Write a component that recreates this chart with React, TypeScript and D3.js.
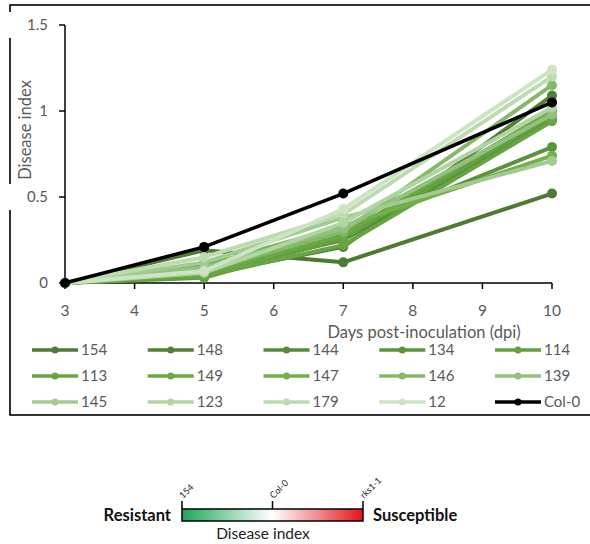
import React from 'react'
import * as d3 from 'd3'

const WIDTH = 590
const HEIGHT = 544
const FONT = 'Lato, "Open Sans", sans-serif'
const GREY = '#595959'

// Data
const DAYS = [3, 5, 7, 10]
const X_TICKS = [3, 4, 5, 6, 7, 8, 9, 10]
const Y_TICKS = [0, 0.5, 1, 1.5]
const Y_TICK_LABELS = ['0', '0.5', '1', '1.5']

const LINES = ['154', '148', '144', '134', '114', '113', '149', '147', '146', '139', '145', '123', '179', '12', 'Col-0']
const COLORS = ['#4f7a33', '#527f35', '#578a38', '#5a943a', '#62a040', '#68a444', '#6aa844', '#72b04c', '#84b96a', '#94c080', '#a4ca93', '#b0d4a2', '#bcdcb0', '#cce4c4', '#000000']
const VALUES = [
  [0, 0.19, 0.12, 0.52],
  [0, 0.05, 0.21, 1.09],
  [0, 0.06, 0.25, 0.95],
  [0, 0.08, 0.3, 0.79],
  [0, 0.03, 0.26, 0.97],
  [0, 0.04, 0.22, 0.94],
  [0, 0.05, 0.28, 1.0],
  [0, 0.1, 0.33, 0.74],
  [0, 0.07, 0.3, 1.15],
  [0, 0.09, 0.32, 0.98],
  [0, 0.12, 0.38, 0.71],
  [0, 0.06, 0.35, 1.02],
  [0, 0.15, 0.4, 1.2],
  [0, 0.07, 0.43, 1.24],
  [0, 0.21, 0.52, 1.05],
]

const BAR_LABELS = ['154', 'Col-0', 'rks1-1']

export default function App() {
  const x = d3.scaleLinear().domain([3, 10]).range([65, 552])
  const y = d3.scaleLinear().domain([0, 1.5]).range([283, 25])
  const line = d3.line<number>()
    .x((_, i) => x(DAYS[i]))
    .y(d => y(d))

  // legend grid: 5 columns, 3 rows
  const legX = d3.scalePoint<number>().domain([0, 1, 2, 3, 4]).range([32, 495])
  const legY = d3.scalePoint<number>().domain([0, 1, 2]).range([350, 402])

  // colour bar
  const bar = d3.scalePoint<string>().domain(BAR_LABELS).range([182, 363])

  return (
    <svg width={WIDTH} height={HEIGHT} style={{ display: 'block', position: 'absolute', left: 0, top: 0 }} fontFamily={FONT}>
      <defs>
        <linearGradient id="di" x1="0" x2="1" y1="0" y2="0">
          <stop offset="0%" stopColor="#1fa65a" />
          <stop offset="50%" stopColor="#ffffff" />
          <stop offset="100%" stopColor="#e2171b" />
        </linearGradient>
      </defs>
      <rect width={WIDTH} height={HEIGHT} fill="#fff" />
      {/* chart frame, runs off the right edge */}
      <rect x={10} y={5} width={620} height={410} fill="none" stroke="#000" strokeWidth={1.6} />

      {/* y axis */}
      {Y_TICKS.map((t, i) => (
        <g key={t}>
          {(t === 1.5 || t === 0.5) && (
            <rect x={8} y={Math.max(7, y(t) - 13)} width={42} height={y(t) + 13 - Math.max(7, y(t) - 13)} fill="#fff" />
          )}
          <line x1={59} x2={65} y1={y(t)} y2={y(t)} stroke="#000" strokeWidth={1.5} />
          <text x={48} y={y(t)} dy="0.35em" textAnchor="end" fontSize={15} fill={GREY}>{Y_TICK_LABELS[i]}</text>
        </g>
      ))}
      <line x1={x(3)} x2={x(3)} y1={y(1.5)} y2={y(0)} stroke="#000" strokeWidth={1.5} />
      <text transform="translate(25,130) rotate(-90)" textAnchor="middle" dy="0.35em" fontSize={16.5} fill={GREY}>Disease index</text>

      {/* x axis */}
      <line x1={x(3)} x2={x(10)} y1={y(0)} y2={y(0)} stroke="#000" strokeWidth={1.5} />
      {X_TICKS.map(t => (
        <g key={t}>
          <line x1={x(t)} x2={x(t)} y1={y(0)} y2={y(0) + 6} stroke="#000" strokeWidth={1.5} />
          <text x={x(t)} y={311} dy="0.35em" textAnchor="middle" fontSize={15.5} fill={GREY}>{t}</text>
        </g>
      ))}
      <text x={424} y={332} dy="0.35em" textAnchor="middle" fontSize={16.5} fill={GREY}>Days post-inoculation (dpi)</text>

      {/* series */}
      {LINES.map((name, i) => (
        <g key={name}>
          <path d={line(VALUES[i]) || ''} fill="none" stroke={COLORS[i]} strokeWidth={name === 'Col-0' ? 3.5 : 4} strokeLinejoin="round" />
          {VALUES[i].map((v, j) => (
            <circle key={j} cx={x(DAYS[j])} cy={y(v)} r={5} fill={COLORS[i]} />
          ))}
        </g>
      ))}

      {/* legend */}
      {LINES.map((name, i) => {
        const lx = legX(i % 5) as number
        const ly = legY(Math.floor(i / 5)) as number
        return (
          <g key={name}>
            <line x1={lx} x2={lx + 46} y1={ly} y2={ly} stroke={COLORS[i]} strokeWidth={3.5} />
            <circle cx={lx + 23} cy={ly} r={3.5} fill={COLORS[i]} />
            <text x={lx + 49} y={ly} dy="0.35em" fontSize={15} fill={GREY}>{name}</text>
          </g>
        )
      })}

      {/* colour bar */}
      <rect x={bar('154')} y={509} width={(bar('rks1-1') as number) - (bar('154') as number)} height={12} fill="url(#di)" stroke="#000" strokeWidth={1.5} />
      {BAR_LABELS.map(l => (
        <g key={l}>
          <line x1={bar(l)} x2={bar(l)} y1={501} y2={509} stroke="#000" strokeWidth={1.5} />
          <text transform={`translate(${(bar(l) as number) + 1},${499}) rotate(-45)`} fontSize={9} fill="#222">{l}</text>
        </g>
      ))}
      <text x={171} y={515} dy="0.35em" textAnchor="end" fontSize={16.5} fontWeight="bold" fill="#111">Resistant</text>
      <text x={373} y={515} dy="0.35em" fontSize={16.5} fontWeight="bold" fill="#111">Susceptible</text>
      <text x={263} y={534} dy="0.35em" textAnchor="middle" fontSize={15.5} fill="#222">Disease index</text>
    </svg>
  )
}
